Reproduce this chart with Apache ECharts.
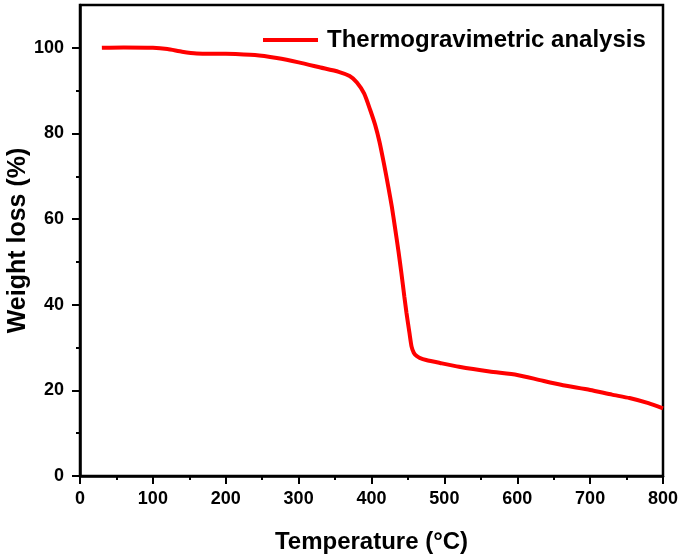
<!DOCTYPE html>
<html>
<head>
<meta charset="utf-8">
<script src="https://cdn.jsdelivr.net/npm/echarts@6/dist/echarts.min.js"></script>
<style>
html,body{margin:0;padding:0;background:#fff;}
#chart{width:685px;height:559px;}
</style>
</head>
<body>
<div id="chart"></div>
<script>
var seriesName = 'Thermogravimetric analysis';
var temperatureC = [30, 60, 100, 120, 140, 160, 200, 240, 270, 300, 330, 355, 370, 380, 390, 398, 405, 411, 417, 423, 428, 432, 437, 441, 445, 448, 452, 455, 458, 462, 466, 475, 494, 520, 562, 600, 631, 660, 700, 730, 754, 780, 800];
var weightPct = [100, 100.1, 100, 99.7, 99.1, 98.7, 98.6, 98.3, 97.6, 96.6, 95.4, 94.4, 93.4, 91.9, 89.3, 85.6, 82, 78, 73, 67.6, 62.8, 58.3, 52.5, 47.4, 42, 38.1, 33.5, 30.2, 28.8, 28.0, 27.6, 27.1, 26.4, 25.5, 24.4, 23.6, 22.4, 21.3, 20.1, 19.0, 18.2, 17.0, 15.8];
var xTicks = [0, 100, 200, 300, 400, 500, 600, 700, 800];
var yTicks = [0, 20, 40, 60, 80, 100];
var yMinorTicks = [10, 30, 50, 70, 90];

var data = temperatureC.map(function (t, i) { return [t, weightPct[i]]; });
var font = 'Arial, "Liberation Sans", sans-serif';

var chart = echarts.init(document.getElementById('chart'), null, {renderer: 'canvas'});
chart.setOption({
  animation: false,
  backgroundColor: '#fff',
  grid: {left: 80, right: 22, top: 5, bottom: 83, containLabel: false, outerBoundsMode: 'none',
         show: true, borderColor: '#000', borderWidth: 2.5, backgroundColor: 'transparent'},
  legend: {
    left: 258, top: 23,
    icon: 'rect', itemWidth: 55, itemHeight: 4, itemGap: 0,
    data: [seriesName],
    textStyle: {fontFamily: font, fontWeight: 'bold', fontSize: 24, color: '#000', padding: [0, 0, 0, 4]}
  },
  xAxis: {
    type: 'value', min: xTicks[0], max: xTicks[xTicks.length - 1], interval: 100,
    name: 'Temperature (°C)', nameLocation: 'middle', nameGap: 54, nameMoveOverlap: false,
    nameTextStyle: {fontFamily: font, fontWeight: 'bold', fontSize: 24, color: '#000'},
    axisLine: {show: true, lineStyle: {color: '#000', width: 2.5}},
    axisTick: {show: true, inside: false, length: 8, lineStyle: {color: '#000', width: 2}},
    minorTick: {show: true, splitNumber: 2, length: 4, lineStyle: {color: '#000', width: 2}},
    axisLabel: {margin: 14, fontFamily: font, fontWeight: 'bold', fontSize: 18, color: '#000'},
    splitLine: {show: false}
  },
  yAxis: [{
    type: 'value', min: 0, max: 110, interval: 20,
    name: 'Weight loss (%)', nameLocation: 'middle', nameGap: 49, nameRotate: 90, nameMoveOverlap: false,
    nameTextStyle: {fontFamily: font, fontWeight: 'bold', fontSize: 25, color: '#000'},
    axisLine: {show: true, lineStyle: {color: '#000', width: 2.5}},
    axisTick: {show: true, inside: false, length: 8, customValues: yTicks, lineStyle: {color: '#000', width: 2}},
    axisLabel: {margin: 16, customValues: yTicks, fontFamily: font, fontWeight: 'bold', fontSize: 18, color: '#000'},
    splitLine: {show: false}
  }, {
    type: 'value', min: 0, max: 110, position: 'left',
    axisLine: {show: false},
    axisTick: {show: true, inside: false, length: 4, customValues: yMinorTicks, lineStyle: {color: '#000', width: 2}},
    axisLabel: {show: false},
    splitLine: {show: false}
  }],
  series: [{
    name: seriesName,
    type: 'line',
    data: data,
    yAxisIndex: 0,
    showSymbol: false,
    smooth: 0.2,
    lineStyle: {color: '#ff0000', width: 4},
    itemStyle: {color: '#ff0000'}
  }]
});
</script>
</body>
</html>
